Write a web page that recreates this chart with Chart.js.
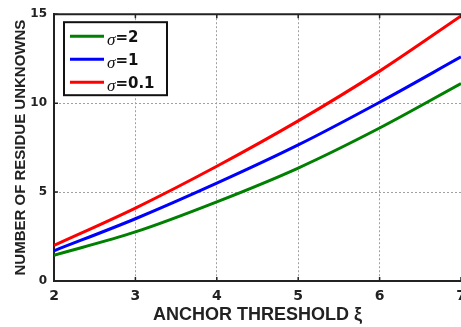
<!DOCTYPE html>
<html>
<head>
<meta charset="utf-8">
<script src="https://cdn.jsdelivr.net/npm/chart.js@4/dist/chart.umd.min.js"></script>
<style>
  body { margin: 0; background: #fff; }
</style>
</head>
<body>
<canvas id="c" width="461" height="327"></canvas>
<script>
// anchor threshold values
const xi = [2, 3, 4, 5, 6, 7];
const sigma2 = [1.45, 2.76, 4.45, 6.35, 8.6, 11.1];
const sigma1 = [1.7, 3.5, 5.5, 7.65, 10.05, 12.6];
const sigma01 = [2.0, 4.1, 6.45, 9.0, 11.8, 14.9];
const seriesNames = ['2', '1', '0.1'];
const seriesColors = ['#008000', '#0000ff', '#ff0000'];
const xTicks = [2, 3, 4, 5, 6, 7];
const yTicks = [0, 5, 10, 15];

function pts(vals) {
  return xi.map((x, i) => ({ x: x, y: vals[i] }));
}

const inkColor = '#222';
const gridColor = '#a0a0a0';
const tickFont = '"DejaVu Sans", Arial, sans-serif';

// MATLAB style box: top border, inward tick marks, the cut "7", boxed legend
const extras = {
  id: 'extras',
  afterDraw(chart) {
    const ctx = chart.ctx;
    const a = chart.chartArea;
    const xs = chart.scales.x, ys = chart.scales.y;
    ctx.save();
    ctx.strokeStyle = inkColor;
    ctx.lineWidth = 2;
    ctx.beginPath();
    ctx.moveTo(a.left - 1, a.top);
    ctx.lineTo(a.right, a.top);
    ctx.stroke();

    ctx.lineWidth = 1.5;
    ctx.beginPath();
    xTicks.forEach(v => {
      const px = xs.getPixelForValue(v);
      ctx.moveTo(px, a.bottom);
      ctx.lineTo(px, a.bottom - 4);
      ctx.moveTo(px, a.top);
      ctx.lineTo(px, a.top + 4);
    });
    yTicks.forEach(v => {
      const py = ys.getPixelForValue(v);
      ctx.moveTo(a.left, py);
      ctx.lineTo(a.left + 4, py);
    });
    ctx.stroke();

    // last x label sits on the edge of the picture
    ctx.fillStyle = inkColor;
    ctx.font = 'bold 14px ' + tickFont;
    ctx.textAlign = 'center';
    ctx.textBaseline = 'middle';
    ctx.fillText('7', xs.getPixelForValue(7), 296);

    // legend
    const lx = a.left + 10, ly = a.top + 8, lw = 103, lh = 73;
    ctx.fillStyle = '#fff';
    ctx.fillRect(lx, ly, lw, lh);
    ctx.strokeStyle = '#111';
    ctx.lineWidth = 2;
    ctx.strokeRect(lx, ly, lw, lh);
    const rows = [14, 37, 60];
    chart.data.datasets.forEach((ds, i) => {
      const y = ly + rows[i];
      ctx.strokeStyle = ds.borderColor;
      ctx.lineWidth = 3;
      ctx.beginPath();
      ctx.moveTo(lx + 6, y);
      ctx.lineTo(lx + 40, y);
      ctx.stroke();
      ctx.fillStyle = '#111';
      ctx.textAlign = 'left';
      ctx.textBaseline = 'middle';
      ctx.font = 'italic 17px "Liberation Serif", "Times New Roman", serif';
      ctx.fillText('\u03c3', lx + 43, y + 4);
      const w = ctx.measureText('\u03c3').width;
      ctx.font = 'bold 15px ' + tickFont;
      ctx.fillText('=' + seriesNames[i], lx + 43 + w, y + 2);
    });
    ctx.restore();
  }
};

new Chart(document.getElementById('c'), {
  type: 'line',
  data: {
    datasets: [
      { label: 'sigma=2', data: pts(sigma2), borderColor: seriesColors[0] },
      { label: 'sigma=1', data: pts(sigma1), borderColor: seriesColors[1] },
      { label: 'sigma=0.1', data: pts(sigma01), borderColor: seriesColors[2] }
    ].map(d => Object.assign(d, {
      borderWidth: 3,
      pointRadius: 0,
      fill: false,
      cubicInterpolationMode: 'monotone'
    }))
  },
  options: {
    responsive: false,
    animation: false,
    layout: { padding: { top: 9, right: 0, left: 0, bottom: 0 } },
    plugins: { legend: { display: false }, tooltip: { enabled: false } },
    scales: {
      x: {
        type: 'linear',
        min: 2, max: 7,
        afterFit: s => { s.height = 46; s.paddingRight = 0; s.paddingLeft = 0; },
        afterBuildTicks: s => { s.ticks = xTicks.map(v => ({ value: v })); },
        ticks: {
          padding: 7,
          color: inkColor,
          font: { family: tickFont, size: 14, weight: 'bold' },
          maxRotation: 0,
          callback: v => (v === 7 ? '' : v)
        },
        grid: {
          drawTicks: false,
          lineWidth: 1,
          color: c => (c.tick && (c.tick.value === 2 || c.tick.value === 7) ? 'rgba(0,0,0,0)' : gridColor)
        },
        border: { display: true, color: inkColor, width: 2, dash: [2, 2] },
        title: {
          display: true,
          text: 'ANCHOR THRESHOLD \u03be',
          color: inkColor,
          font: { family: '"Liberation Sans", Arial, sans-serif', size: 18, weight: 'bold' },
          padding: { top: 1, bottom: 1 }
        }
      },
      y: {
        min: 0, max: 15,
        afterFit: s => { s.width = 54; },
        afterBuildTicks: s => { s.ticks = yTicks.map(v => ({ value: v })); },
        ticks: {
          padding: 7,
          color: inkColor,
          font: { family: tickFont, size: 12, weight: 'bold' }
        },
        grid: {
          drawTicks: false,
          lineWidth: 1,
          color: c => (c.tick && (c.tick.value === 0 || c.tick.value === 15) ? 'rgba(0,0,0,0)' : gridColor)
        },
        border: { display: true, color: inkColor, width: 2, dash: [2, 2] },
        title: {
          display: true,
          text: 'NUMBER OF RESIDUE UNKNOWNS',
          color: inkColor,
          font: { family: '"Liberation Sans", Arial, sans-serif', size: 15, weight: 'bold' },
          padding: { top: 12, bottom: 0 }
        }
      }
    }
  },
  plugins: [extras]
});
</script>
</body>
</html>
